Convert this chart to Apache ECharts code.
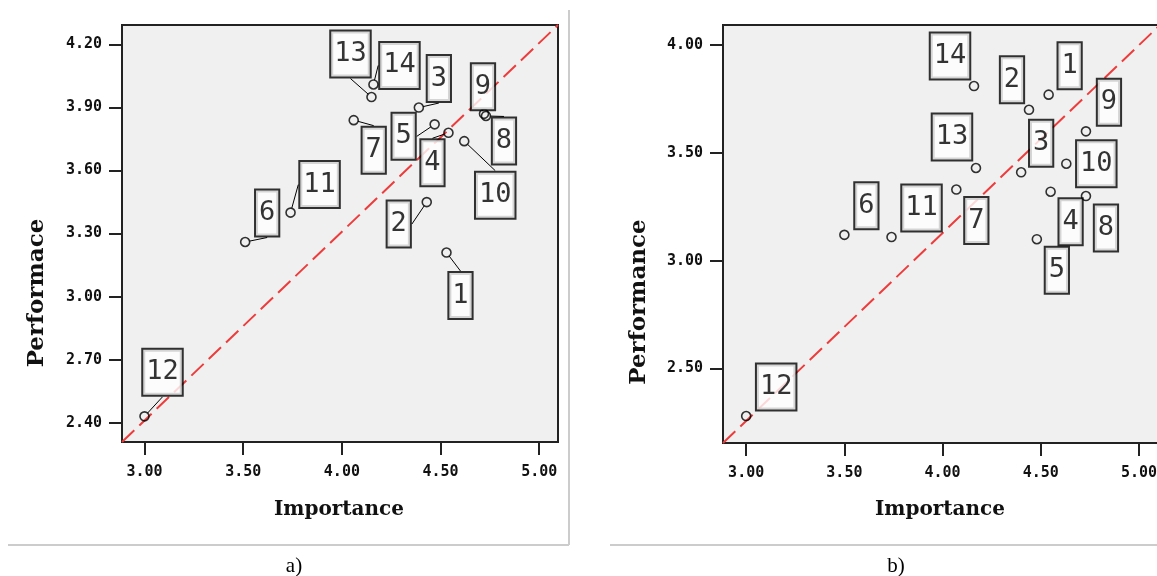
<!DOCTYPE html>
<html><head><meta charset="utf-8">
<script src="https://cdn.jsdelivr.net/npm/echarts@6/dist/echarts.min.js"></script>
<style>html,body{margin:0;padding:0;background:#fff}#c{width:1157px;height:576px}</style>
</head><body><div id="c"></div>
<script>
// ---- data ----
const pointLabels = ['1','2','3','4','5','6','7','8','9','10','11','12','13','14'];
// panel a)
const importanceA = [4.53, 4.43, 4.39, 4.54, 4.47, 3.51, 4.06, 4.73, 4.72, 4.62, 3.74, 3.00, 4.15, 4.16];
const performanceA = [3.21, 3.45, 3.90, 3.78, 3.82, 3.26, 3.84, 3.86, 3.87, 3.74, 3.40, 2.43, 3.95, 4.01];
// panel b)
const importanceB = [4.54, 4.44, 4.40, 4.55, 4.48, 3.50, 4.07, 4.73, 4.73, 4.63, 3.74, 3.00, 4.17, 4.16];
const performanceB = [3.77, 3.70, 3.41, 3.32, 3.10, 3.12, 3.33, 3.30, 3.60, 3.45, 3.11, 2.28, 3.43, 3.81];
// axes
const xTickValues = [3.0, 3.5, 4.0, 4.5, 5.0];
const yTickValuesA = [2.4, 2.7, 3.0, 3.3, 3.6, 3.9, 4.2];
const yTickValuesB = [2.5, 3.0, 3.5, 4.0];
const xRangeA = [2.886, 5.095], yRangeA = [2.308, 4.293];
const xRangeB = [2.882, 5.107], yRangeB = [2.155, 4.093];
const xTitle = 'Importance';
const yTitleA = 'Performace';
const yTitleB = 'Performance';

// ---- layout (label box offsets in px from the point) ----
const labelOffsetA = [[14,43],[-28,22],[20,-29],[-16,30],[-31,12],[22,-29],[20,30],[18,25],[-1,-27],[31,54],[29,-28],[18,-44],[-21,-43],[26,-19]];
const labelOffsetB = [[21,-29],[-17,-30],[20,-29],[20,30],[20,31],[22,-29],[20,31],[20,32],[23,-29],[30,0],[30,-29],[30,-29],[-24,-31],[-24,-30]];

const AX = '#222';
const tickFont = {fontFamily:'DejaVu Sans Mono', fontSize:15, color:'#111', fontWeight:'bold'};
function fmt(v){ return Number(v).toFixed(2); }
function xAxis(gi, range){
  return {type:'value', gridIndex:gi, min:range[0], max:range[1],
    axisLine:{show:true, onZero:false, lineStyle:{color:AX, width:2}},
    axisTick:{show:true, length:13, customValues:xTickValues, lineStyle:{color:AX, width:2}},
    axisLabel:Object.assign({customValues:xTickValues, formatter:fmt, margin:23}, tickFont),
    splitLine:{show:false}};
}
function yAxis(gi, range, ticks){
  return {type:'value', gridIndex:gi, min:range[0], max:range[1],
    axisLine:{show:true, onZero:false, lineStyle:{color:AX, width:2}},
    axisTick:{show:true, length:13, customValues:ticks, lineStyle:{color:AX, width:2}},
    axisLabel:Object.assign({customValues:ticks, formatter:fmt, margin:20}, tickFont),
    splitLine:{show:false}};
}
function scatter(gi, xs, ys, offs, withLines){
  return {type:'scatter', xAxisIndex:gi, yAxisIndex:gi, z:5,
    data: xs.map((x,i)=>[x, ys[i]]),
    symbol:'circle', symbolSize:9,
    itemStyle:{color:'rgba(0,0,0,0)', borderColor:'#000', borderWidth:1.6},
    label:{show:true, position:'inside', formatter:p=>pointLabels[p.dataIndex],
      fontFamily:'DejaVu Sans Mono', fontSize:27, color:'#000', textBorderWidth:0,
      backgroundColor:'#fff', borderColor:'#000', borderWidth:2, padding:[6,3,9,3], lineHeight:30},
    labelLayout: p => ({dx: offs[p.dataIndex][0], dy: offs[p.dataIndex][1]}),
    labelLine:{show:withLines, lineStyle:{color:'#000', width:1}},
    emphasis:{disabled:true}, silent:true};
}
function refLine(gi, xr, yr){
  return {type:'line', xAxisIndex:gi, yAxisIndex:gi, z:2, silent:true,
    data:[[xr[0], yr[0]], [xr[1], yr[1]]], symbol:'none',
    lineStyle:{color:'#ee3b3b', width:2, type:[17,7]}};
}
const titleFont = {fontFamily:'DejaVu Serif', fontWeight:'bold', fill:'#111'};
const chart = echarts.init(document.getElementById('c'), null, {renderer:'canvas'});
chart.setOption({
  backgroundColor:'#fff',
  animation:false,
  grid:[
    {left:122, top:25, width:436, height:417, show:true, backgroundColor:'#f0f0f0', borderColor:AX, borderWidth:2, outerBoundsMode:'none', containLabel:false},
    {left:723, top:25, width:437, height:418, show:true, backgroundColor:'#f0f0f0', borderColor:AX, borderWidth:2, outerBoundsMode:'none', containLabel:false}
  ],
  xAxis:[xAxis(0, xRangeA), xAxis(1, xRangeB)],
  yAxis:[yAxis(0, yRangeA, yTickValuesA), yAxis(1, yRangeB, yTickValuesB)],
  series:[
    refLine(0, xRangeA, yRangeA),
    scatter(0, importanceA, performanceA, labelOffsetA, true),
    refLine(1, xRangeB, yRangeB),
    scatter(1, importanceB, performanceB, labelOffsetB, false)
  ],
  graphic:[
    {type:'line', shape:{x1:569, y1:10, x2:569, y2:545}, style:{stroke:'#cccccc', lineWidth:2}, silent:true},
    {type:'line', shape:{x1:8, y1:545, x2:569, y2:545}, style:{stroke:'#cccccc', lineWidth:2}, silent:true},
    {type:'line', shape:{x1:610, y1:545, x2:1157, y2:545}, style:{stroke:'#cccccc', lineWidth:2}, silent:true},
    {type:'text', x:339, y:510, style:Object.assign({text:xTitle, fontSize:20, align:'center', verticalAlign:'middle'}, titleFont)},
    {type:'text', x:940, y:510, style:Object.assign({text:xTitle, fontSize:20, align:'center', verticalAlign:'middle'}, titleFont)},
    {type:'text', x:37, y:293, rotation:Math.PI/2, style:Object.assign({text:yTitleA, fontSize:23, align:'center', verticalAlign:'middle'}, titleFont)},
    {type:'text', x:639, y:302, rotation:Math.PI/2, style:Object.assign({text:yTitleB, fontSize:23, align:'center', verticalAlign:'middle'}, titleFont)},
    {type:'text', x:294, y:566, style:{text:'a)', fontFamily:'Liberation Serif', fontSize:21, fill:'#000', align:'center', verticalAlign:'middle'}},
    {type:'text', x:896, y:566, style:{text:'b)', fontFamily:'Liberation Serif', fontSize:21, fill:'#000', align:'center', verticalAlign:'middle'}}
  ]
});
</script></body></html>
